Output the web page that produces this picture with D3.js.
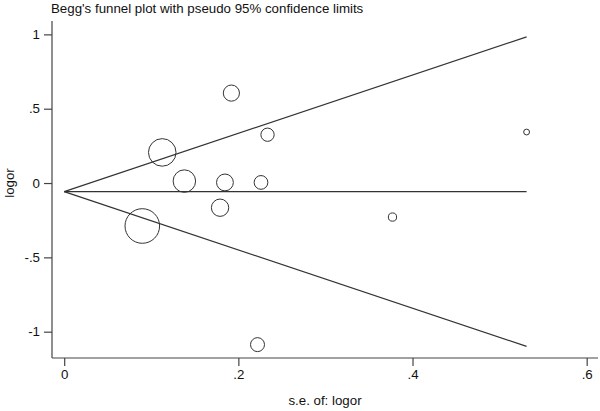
<!DOCTYPE html>
<html>
<head>
<meta charset="utf-8">
<script src="https://cdn.jsdelivr.net/npm/d3@7"></script>
<style>
  body { margin: 0; background: #fff; }
  svg text { font-family: "Liberation Sans", Arial, sans-serif; fill: #111; }
</style>
</head>
<body>
<div id="d3-container"></div>
<script>
/**
 * CONSTANTS AND GLOBALS
 * */
const width = 600,
  height = 411,
  fontSize = 13.3;

// study estimates: standard error (x) and log odds ratio (y)
const studySE = [0.192, 0.2335, 0.1126, 0.138, 0.1846, 0.226, 0.179, 0.0897, 0.531, 0.377, 0.222];
const studyLogOR = [0.605, 0.325, 0.206, 0.013, 0.004, 0.004, -0.166, -0.289, 0.343, -0.229, -1.087];

// pseudo 95% confidence limits (se, logor) and pooled estimate
const pooledLine = [[0, -0.058], [0.531, -0.058]];
const upperLimit = [[0, -0.058], [0.531, 0.983]];
const lowerLimit = [[0, -0.058], [0.531, -1.099]];

const xTicks = [0, 0.2, 0.4, 0.6];
const yTicks = [1, 0.5, 0, -0.5, -1];

// Stata style labels: ".5", "-1" (plain hyphen, no leading zero)
const fmt = d => d === 0 ? "0" : String(d).replace(/^(-?)0\./, "$1.");

/**
 * SCALES
 * */
const xScale = d3.scaleLinear().domain([-0.014, 0.613]).range([52, 598]);
const yScale = d3.scaleLinear().domain([-1.177, 1.09]).range([358, 21]);

// marker area proportional to weight 1/se^2
const weights = studySE.map(s => 1 / (s * s));
const rScale = d3.scaleSqrt().domain([0, d3.max(weights)]).range([0, 17.3]);

const svg = d3.select("#d3-container")
  .append("svg")
  .attr("width", width)
  .attr("height", height);

// title
svg.append("text")
  .attr("x", 51)
  .attr("y", 13)
  .attr("font-size", fontSize)
  .text("Begg's funnel plot with pseudo 95% confidence limits");

// AXES
const xAxis = d3.axisBottom(xScale).tickValues(xTicks).tickSize(8).tickPadding(4).tickFormat(fmt);
const yAxis = d3.axisLeft(yScale).tickValues(yTicks).tickSize(8).tickPadding(4).tickFormat(fmt);

const gx = svg.append("g")
  .attr("transform", `translate(0,${yScale.range()[0]})`)
  .call(xAxis);
const gy = svg.append("g")
  .attr("transform", `translate(${xScale.range()[0]},0)`)
  .call(yAxis);

[gx, gy].forEach(g => {
  g.select(".domain").attr("stroke", "#444").attr("stroke-width", 1.2);
  g.selectAll(".tick line").attr("stroke", "#444").attr("stroke-width", 1.2);
  g.selectAll(".tick text")
    .attr("font-size", fontSize)
    .attr("font-family", "Liberation Sans, Arial, sans-serif")
    .attr("fill", "#111");
});
// plain axis lines without end caps
gx.select(".domain").attr("d", `M${xScale.range()[0]},0H${xScale.range()[1]}`);
gy.select(".domain").attr("d", `M0,${yScale.range()[0]}V${yScale.range()[1]}`);

// axis titles
svg.append("text")
  .attr("x", (xScale.range()[0] + xScale.range()[1]) / 2)
  .attr("y", 405)
  .attr("text-anchor", "middle")
  .attr("font-size", fontSize)
  .text("s.e. of: logor");

svg.append("text")
  .attr("transform", `translate(14,${yScale(0)}) rotate(-90)`)
  .attr("text-anchor", "middle")
  .attr("font-size", fontSize)
  .text("logor");

// funnel lines
const line = d3.line().x(d => xScale(d[0])).y(d => yScale(d[1]));
svg.selectAll(".funnel")
  .data([upperLimit, pooledLine, lowerLimit])
  .join("path")
  .attr("class", "funnel")
  .attr("d", line)
  .attr("fill", "none")
  .attr("stroke", "#333")
  .attr("stroke-width", 1.2);

// study markers
svg.selectAll(".dot")
  .data(studySE.map((s, i) => ({ se: s, logor: studyLogOR[i], w: weights[i] })))
  .join("circle")
  .attr("class", "dot")
  .attr("cx", d => xScale(d.se))
  .attr("cy", d => yScale(d.logor))
  .attr("r", d => rScale(d.w))
  .attr("fill", "none")
  .attr("stroke", "#333")
  .attr("stroke-width", 1);
</script>
</body>
</html>
